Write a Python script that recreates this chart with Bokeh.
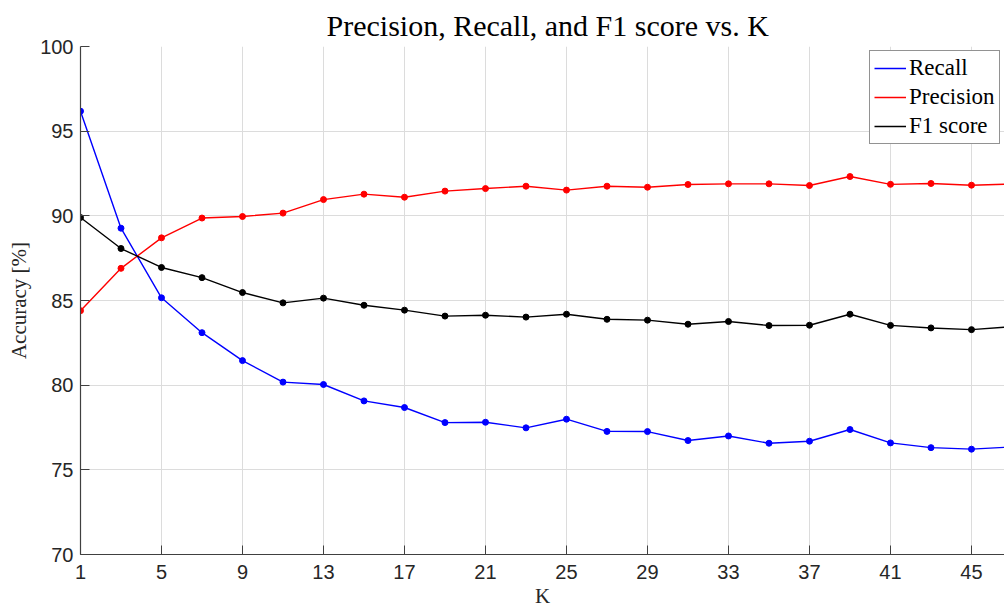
from bokeh.plotting import figure
from bokeh.models import FixedTicker, Legend, LegendItem, ColumnDataSource
from bokeh.embed import file_html
from bokeh.resources import INLINE

k_values = [1, 3, 5, 7, 9, 11, 13, 15, 17, 19, 21, 23, 25, 27, 29, 31, 33, 35, 37, 39, 41, 43, 45, 47]
recall = [96.18, 89.27, 85.16, 83.10, 81.45, 80.18, 80.04, 79.07, 78.68, 77.79, 77.81, 77.48,
          77.99, 77.27, 77.26, 76.73, 77.00, 76.57, 76.69, 77.38, 76.59, 76.31, 76.22, 76.35]
precision = [84.40, 86.90, 88.70, 89.87, 89.96, 90.16, 90.96, 91.28, 91.10, 91.46, 91.61, 91.75,
             91.52, 91.75, 91.69, 91.85, 91.89, 91.89, 91.79, 92.32, 91.86, 91.91, 91.81, 91.88]
f1_score = [89.90, 88.07, 86.95, 86.35, 85.47, 84.86, 85.14, 84.72, 84.43, 84.08, 84.13, 84.02,
            84.19, 83.89, 83.84, 83.60, 83.76, 83.52, 83.54, 84.19, 83.53, 83.38, 83.28, 83.46]

x_ticks = [1, 5, 9, 13, 17, 21, 25, 29, 33, 37, 41, 45]
y_ticks = [70, 75, 80, 85, 90, 95, 100]

series = [("Recall", recall, "#0000ff"), ("Precision", precision, "#ff0000"), ("F1 score", f1_score, "#000000")]

p = figure(width=1004, height=612, x_range=(1, 46.63), y_range=(70, 100),
           output_backend="svg", toolbar_location=None,
           min_border_left=80, min_border_right=0, min_border_top=46, min_border_bottom=58)

p.title.text = "Precision, Recall, and F1 score vs. K"
p.title.text_font = "Liberation Serif"
p.title.text_font_style = "normal"
p.title.text_font_size = "30px"
p.title.text_color = "#000000"
p.title.align = "left"
p.title.offset = 246
p.title.standoff = 10

p.outline_line_color = None
p.background_fill_color = "white"
p.border_fill_color = "white"

items = []
for name, vals, col in series:
    src = ColumnDataSource(dict(k=k_values, v=vals))
    r = p.line("k", "v", source=src, line_color=col, line_width=1.4)
    p.scatter("k", "v", source=src, size=6, fill_color=col, line_color=col)
    items.append(LegendItem(label=name, renderers=[r]))

for ax in (p.xaxis[0], p.yaxis[0]):
    ax.axis_line_color = "#404040"
    ax.axis_line_width = 1.2
    ax.major_tick_line_color = "#404040"
    ax.major_tick_in = 9
    ax.major_tick_out = 0
    ax.minor_tick_line_color = None
    ax.major_label_text_font = "Liberation Sans"
    ax.major_label_text_font_size = "20px"
    ax.major_label_text_color = "#262626"
    ax.axis_label_text_font = "Liberation Serif"
    ax.axis_label_text_font_style = "normal"
    ax.axis_label_text_font_size = "21px"
    ax.axis_label_text_color = "#262626"

p.xaxis[0].ticker = FixedTicker(ticks=x_ticks)
p.yaxis[0].ticker = FixedTicker(ticks=y_ticks)
p.xaxis[0].axis_label = "K"
p.yaxis[0].axis_label = "Accuracy [%]"
p.xaxis[0].major_label_standoff = 10
p.yaxis[0].major_label_standoff = 7
p.xaxis[0].axis_label_standoff = 2
p.yaxis[0].axis_label_standoff = 6

p.xgrid.ticker = FixedTicker(ticks=x_ticks)
p.ygrid.ticker = FixedTicker(ticks=y_ticks)
p.grid.grid_line_color = "#dcdcdc"
p.grid.grid_line_width = 1

legend = Legend(items=items, location=(789, 410))
legend.label_text_font = "Liberation Serif"
legend.label_text_font_size = "23px"
legend.label_text_color = "#000000"
legend.border_line_color = "#262626"
legend.border_line_width = 1
legend.background_fill_color = "white"
legend.background_fill_alpha = 1
legend.glyph_width = 32
legend.glyph_height = 24
legend.label_standoff = 3
legend.label_height = 24
legend.spacing = 3
legend.padding = 4
legend.margin = 0
p.add_layout(legend, "center")

open("out.html", "w").write(file_html(p, INLINE))
